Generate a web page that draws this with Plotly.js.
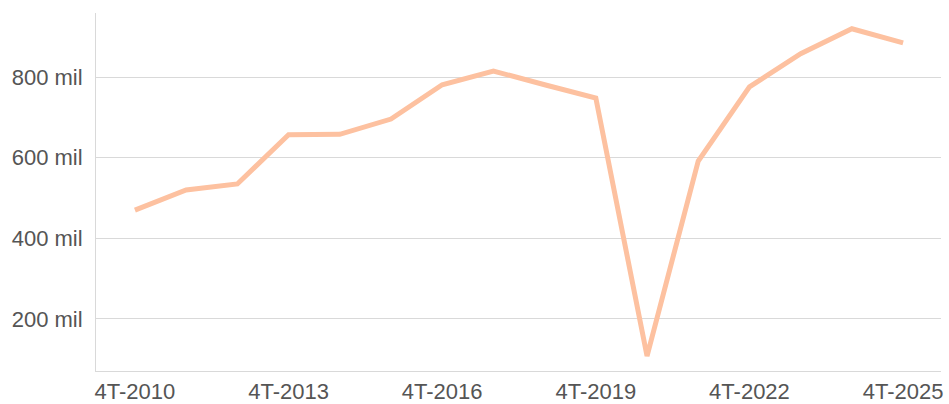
<!DOCTYPE html>
<html>
<head>
<meta charset="utf-8">
<script src="https://cdn.plot.ly/plotly-3.0.1.min.js"></script>
<style>html,body{margin:0;padding:0;background:#fff}#chart{width:949px;height:404px}</style>
</head>
<body>
<div id="chart"></div>
<script>
const categories = ["4T-2010","4T-2011","4T-2012","4T-2013","4T-2014","4T-2015","4T-2016","4T-2017","4T-2018","4T-2019","4T-2020","4T-2021","4T-2022","4T-2023","4T-2024","4T-2025"];
const values = [470, 520, 535, 657, 658, 696, 781, 815, 781, 748, 108, 592, 776, 858, 920, 885];
const xTickLabels = ["4T-2010","4T-2013","4T-2016","4T-2019","4T-2022","4T-2025"];
const yTickValues = [200, 400, 600, 800];
const yTickLabels = ["200 mil","400 mil","600 mil","800 mil"];

Plotly.newPlot('chart', [{
  type: 'scatter',
  mode: 'lines',
  x: categories,
  y: values,
  line: {color: '#fdc1a0', width: 5},
  hoverinfo: 'x+y'
}], {
  width: 949, height: 404,
  margin: {l: 96, r: 8, t: 13, b: 33, pad: 0},
  paper_bgcolor: '#ffffff',
  plot_bgcolor: '#ffffff',
  showlegend: false,
  font: {family: 'Liberation Sans, Arial, sans-serif', size: 22, color: '#555555'},
  xaxis: {
    type: 'category',
    range: [-0.76, 15.74],
    tickmode: 'array',
    tickvals: xTickLabels,
    ticktext: xTickLabels,
    showgrid: false,
    showline: true,
    linecolor: '#d9d9d9',
    linewidth: 1,
    ticks: '',
    ticklabelstandoff: 1,
    zeroline: false
  },
  yaxis: {
    range: [71, 959],
    tickmode: 'array',
    tickvals: yTickValues,
    ticktext: yTickLabels,
    showgrid: true,
    gridcolor: '#d9d9d9',
    gridwidth: 1,
    showline: true,
    linecolor: '#d9d9d9',
    linewidth: 1,
    ticks: '',
    ticklabelstandoff: 8,
    zeroline: false
  }
}, {displayModeBar: false, staticPlot: true});
</script>
</body>
</html>
